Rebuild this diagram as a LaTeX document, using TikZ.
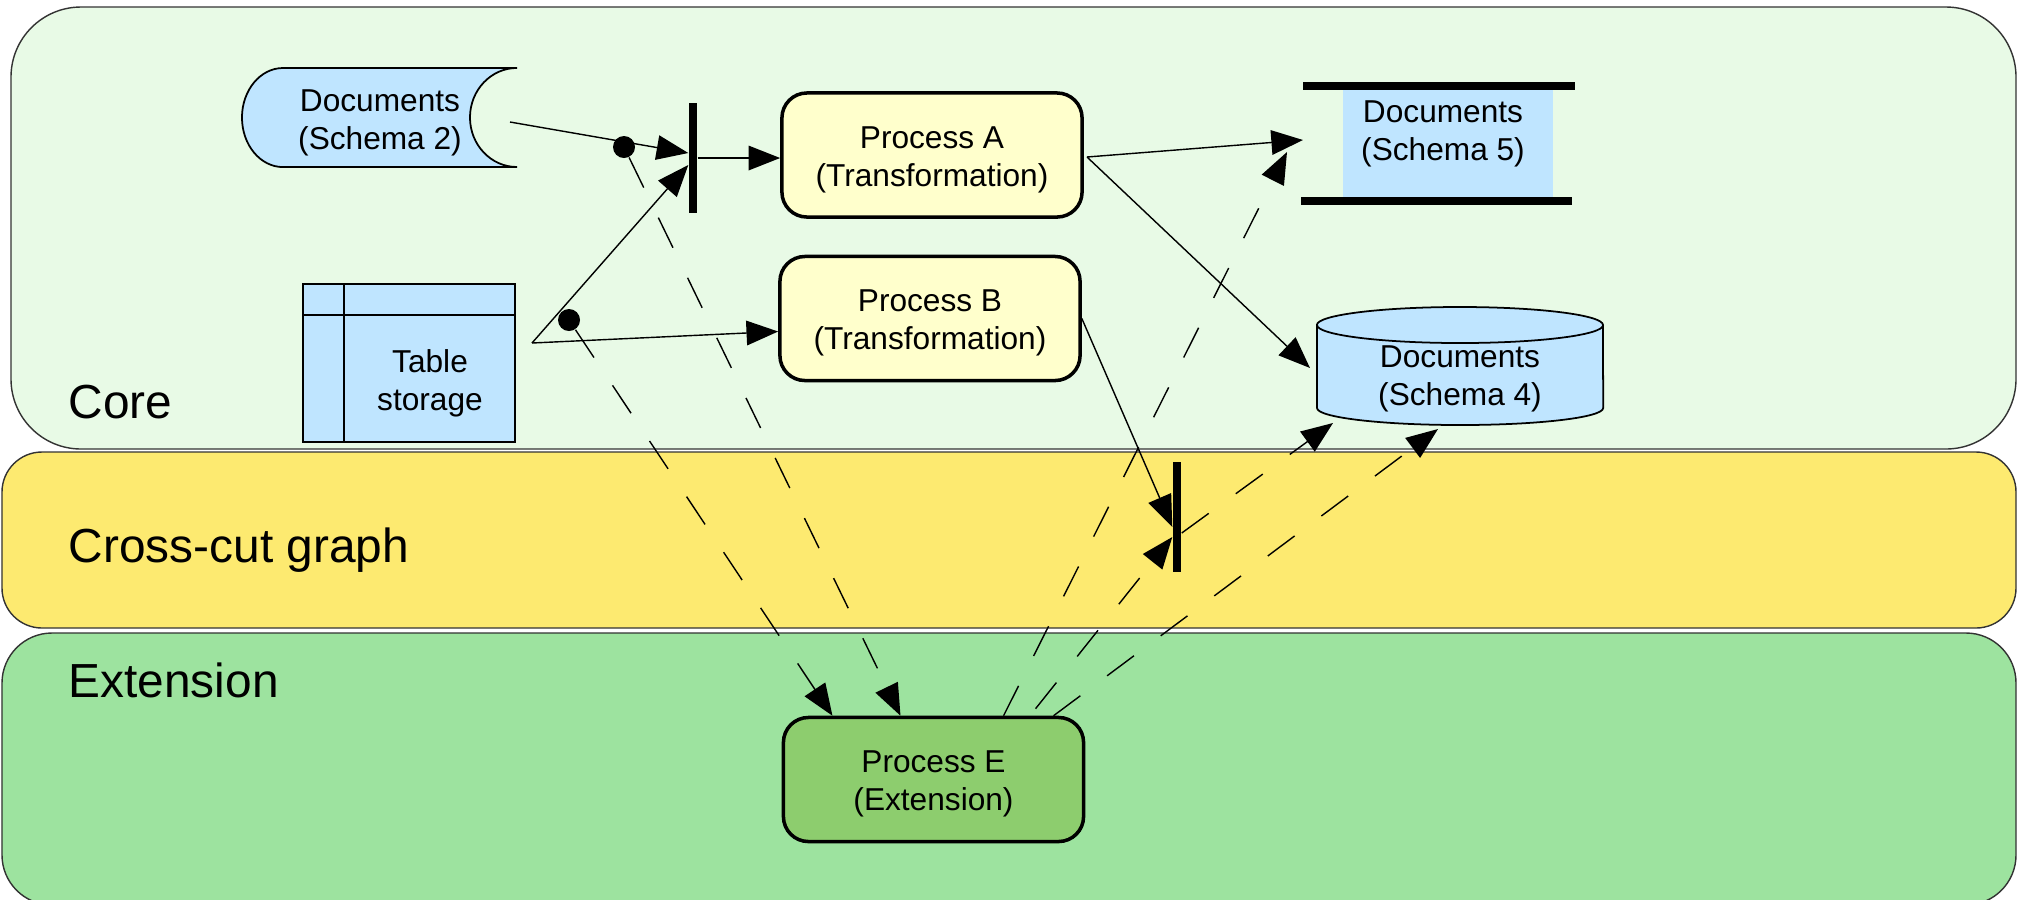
\documentclass[tikz,border=0pt]{standalone}
\usepackage{fontspec}
\setmainfont{Liberation Sans}
\usetikzlibrary{arrows.meta}

\definecolor{corefill}{RGB}{232,250,230}
\definecolor{crossfill}{RGB}{253,234,112}
\definecolor{extfill}{RGB}{157,227,159}
\definecolor{procfill}{RGB}{255,255,204}
\definecolor{extproc}{RGB}{141,205,110}
\definecolor{docblue}{RGB}{191,229,255}

\begin{document}
\begin{tikzpicture}[x=0.01cm, y=-0.01cm,
    band/.style={draw=black!80, line width=0.4pt},
    bandlabel/.style={anchor=base west, inner sep=0pt, font=\fontsize{13.6}{16}\selectfont},
    txt/.style={align=center, font=\fontsize{9}{10.8}\selectfont},
    proc/.style={draw, line width=1pt, rounded corners=2.5mm,
        minimum width=3cm, minimum height=1.24cm},
    bar/.style={fill, inner sep=0pt, minimum width=0.8mm, minimum height=1.1cm},
    dot/.style={circle, fill, inner sep=0pt, minimum size=2.2mm},
    arr/.style={-{Triangle[length=9pt, width=7pt]}, line width=0.4pt},
    dep/.style={arr, dash pattern=on 9.5pt off 9.5pt}]
    \useasboundingbox (0,0) rectangle (2018,899);

    % Bandes
    \draw[band, fill=corefill, rounded corners=7mm] (11,7) rectangle (2016,449);
    \draw[band, fill=crossfill, rounded corners=4mm] (2,452) rectangle (2016,628);
    \draw[band, fill=extfill, rounded corners=5mm] (2,633) rectangle (2016,905);
    \node[bandlabel] (core) at (68,418) {Core};
    \node[bandlabel] (cross) at (68,562) {Cross-cut graph};
    \node[bandlabel] (ext) at (68,697) {Extension};

    % Documents (Schema 2)
    \draw[fill=docblue, line width=0.5pt] (517,68) -- (283,68)
        arc[start angle=90, end angle=270, x radius=0.41cm, y radius=0.495cm]
        -- (517,167)
        arc[start angle=270, end angle=90, x radius=0.47cm, y radius=0.495cm];
    \node[txt] (docs2) at (380,123) {Documents\\(Schema 2)};

    % Table storage
    \draw[fill=docblue, line width=0.5pt] (303,284) rectangle (515,442);
    \draw[line width=0.5pt] (344,284) -- (344,442);
    \draw[line width=0.5pt] (303,315) -- (515,315);
    \node[txt] (table) at (430,383) {Table\\storage};

    % Processus
    \node[proc, fill=procfill] (procA) at (932,155) {};
    \node[txt] (procAtxt) at (932,160) {Process A\\(Transformation)};
    \node[proc, fill=procfill] (procB) at (930,318.5) {};
    \node[txt] (procBtxt) at (930,323) {Process B\\(Transformation)};
    \node[proc, fill=extproc] (procE) at (933.5,779.5) {};
    \node[txt] (procEtxt) at (933.5,784) {Process E\\(Extension)};

    % Documents (Schema 5)
    \fill[docblue] (1343,86) rectangle (1553,201);
    \draw[line width=2pt] (1303,86) -- (1575,86);
    \draw[line width=2pt] (1301,201) -- (1572,201);
    \node[txt] (docs5) at (1443,134) {Documents\\(Schema 5)};

    % Documents (Schema 4)
    \draw[fill=docblue, line width=0.5pt] (1317,325) -- (1317,408)
        arc[start angle=180, end angle=360, x radius=1.43cm, y radius=0.17cm]
        -- (1603,325)
        arc[start angle=0, end angle=180, x radius=1.43cm, y radius=0.18cm];
    \draw[line width=0.5pt] (1317,325)
        arc[start angle=180, end angle=360, x radius=1.43cm, y radius=0.18cm];
    \node[txt] (docs4) at (1460,379) {Documents\\(Schema 4)};

    % Barres et points
    \node[bar] (barA) at (693,158) {};
    \node[bar] (barB) at (1177,517) {};
    \node[dot] (dotA) at (624,147) {};
    \node[dot] (dotB) at (569,320) {};

    % Points d'attache
    \coordinate (docs2out) at (510,122);
    \coordinate (tabout) at (532,343);
    \coordinate (aout) at (1087,157);
    \coordinate (docs5in) at (1303,140);
    \coordinate (docs5low) at (1287,152);
    \coordinate (docs4in) at (1310,368);
    \coordinate (docs4lowA) at (1333,423);
    \coordinate (docs4lowB) at (1438,429);

    % Flux
    \draw[arr] (docs2out) -- ([yshift=0.05cm]barA.west);
    \draw[arr] (tabout) -- ([yshift=-0.07cm]barA.west);
    \draw[arr] (tabout) -- ([yshift=-0.13cm]procB.west);
    \draw[arr] (barA.east) -- (barA.east -| procA.west);
    \draw[arr] (aout) -- (docs5in);
    \draw[arr] (aout) -- (docs4in);
    \draw[arr] (procB.east) -- ([yshift=-0.1cm]barB.west);

    % Dépendances de l'extension
    \draw[dep] (dotA) -- ([xshift=-0.33cm]procE.north);
    \draw[dep] (dotB) -- ([xshift=-1.01cm]procE.north);
    \draw[dep] ([xshift=0.7cm]procE.north) -- (docs5low);
    \draw[dep] ([xshift=1.02cm, yshift=0.07cm]procE.north) -- ([yshift=-0.2cm]barB.west);
    \draw[dep] ([xshift=1.2cm]procE.north) -- (docs4lowB);
    \draw[dep] ([yshift=-0.16cm]barB.east) -- (docs4lowA);
\end{tikzpicture}
\end{document}
